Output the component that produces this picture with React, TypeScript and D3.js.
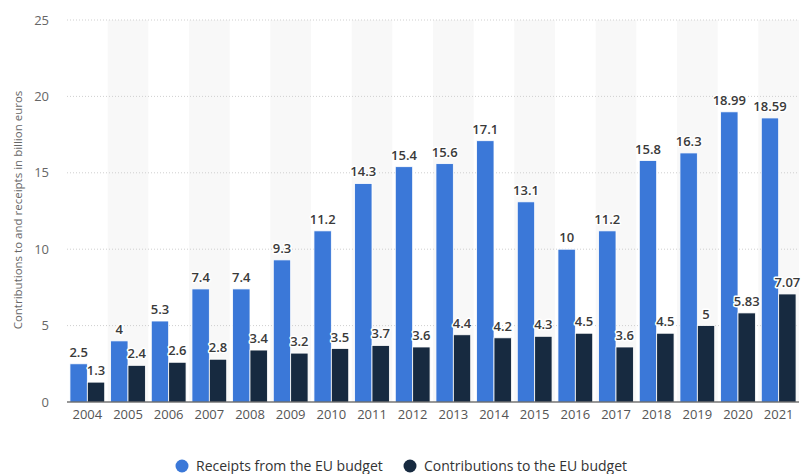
import { useMemo } from 'react';
import * as d3 from 'd3';

const years = ['2004', '2005', '2006', '2007', '2008', '2009', '2010', '2011', '2012', '2013', '2014', '2015', '2016', '2017', '2018', '2019', '2020', '2021'];
const receipts = [2.5, 4, 5.3, 7.4, 7.4, 9.3, 11.2, 14.3, 15.4, 15.6, 17.1, 13.1, 10, 11.2, 15.8, 16.3, 18.99, 18.59];
const contributions = [1.3, 2.4, 2.6, 2.8, 3.4, 3.2, 3.5, 3.7, 3.6, 4.4, 4.2, 4.3, 4.5, 3.6, 4.5, 5, 5.83, 7.07];
const yTicks = [0, 5, 10, 15, 20, 25];
const seriesNames = ['Receipts from the EU budget', 'Contributions to the EU budget'];
const colours = ['#3b78d8', '#172a40'];

const W = 811;
const H = 474;
const font = '"Open Sans", "DejaVu Sans", sans-serif';

export default function App() {
  const margin = { top: 20, right: 12, bottom: 72, left: 67 };

  const x = useMemo(() => d3.scaleBand<string>()
    .domain(years)
    .range([margin.left, W - margin.right])
    .paddingInner(0)
    .paddingOuter(0), []);

  const y = useMemo(() => d3.scaleLinear()
    .domain([0, 25])
    .range([H - margin.bottom, margin.top]), []);

  const inner = d3.scaleBand<number>()
    .domain([0, 1])
    .range([0, x.bandwidth()])
    .paddingInner(0)
    .paddingOuter(0.17);

  const series = [receipts, contributions];

  return (
    <svg width={W} height={H} style={{ position: 'absolute', left: 0, top: 0, fontFamily: font }}>
      <rect width={W} height={H} fill="#fff" />
      {years.map((yr, i) => i % 2 === 1 && (
        <rect key={'bg' + yr} x={x(yr)} y={margin.top} width={x.bandwidth()} height={y(0) - margin.top} fill="#f8f8f8" />
      ))}
      {yTicks.map(t => (
        <g key={'t' + t}>
          {t > 0 && (
            <line x1={margin.left} x2={W - margin.right} y1={y(t)} y2={y(t)} stroke="#cfcfcf" strokeWidth={1} strokeDasharray="1,2" />
          )}
          <text x={49} y={y(t)} dy="0.35em" textAnchor="end" fontSize={13} fill="#666">{t}</text>
        </g>
      ))}
      {series.map((vals, s) => vals.map((v, i) => (
        <rect key={`b${s}-${i}`}
          x={(x(years[i]) ?? 0) + (inner(s) ?? 0)}
          y={y(v)}
          width={inner.bandwidth()}
          height={y(0) - y(v)}
          fill={colours[s]}
          stroke="#fff"
          strokeWidth={0.8} />
      )))}
      <line x1={margin.left} x2={W - margin.right} y1={y(0)} y2={y(0)} stroke="#333" strokeWidth={1.2} />
      {series.map((vals, s) => vals.map((v, i) => (
        <text key={`l${s}-${i}`}
          x={(x(years[i]) ?? 0) + (inner(s) ?? 0) + inner.bandwidth() / 2}
          y={y(v) - 7}
          textAnchor="middle"
          fontSize={13}
          fontWeight={600}
          fill="#3a3a3a"
          stroke="#fff"
          strokeWidth={3}
          strokeLinejoin="round"
          paintOrder="stroke">{v}</text>
      )))}
      {years.map(yr => (
        <text key={'x' + yr} x={(x(yr) ?? 0) + x.bandwidth() / 2} y={y(0) + 17} textAnchor="middle" fontSize={13} fill="#555">{yr}</text>
      ))}
      <text transform={`translate(22,210) rotate(-90)`} textAnchor="middle" fontSize={11.5} fill="#666">
        Contributions to and receipts in billion euros
      </text>
      {[{ cx: 182, tx: 196 }, { cx: 410, tx: 424 }].map((p, s) => (
        <g key={'lg' + s}>
          <circle cx={p.cx} cy={466} r={6.5} fill={colours[s]} />
          <text x={p.tx} y={466} dy="0.35em" fontSize={14} fill="#333">{seriesNames[s]}</text>
        </g>
      ))}
    </svg>
  );
}
